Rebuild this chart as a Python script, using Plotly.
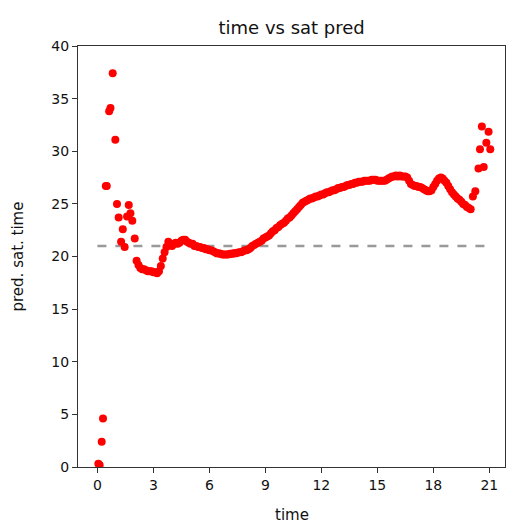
import plotly.graph_objects as go

# sparse early readings
early_time = [0.05, 0.12, 0.23, 0.30, 0.45, 0.50, 0.63, 0.70, 0.82, 0.96,
              1.05, 1.14, 1.27, 1.36, 1.46, 1.59, 1.68, 1.77, 1.87, 2.00]
early_pred = [0.3, 0.2, 2.4, 4.6, 26.7, 26.7, 33.8, 34.1, 37.4, 31.1,
              25.0, 23.7, 21.4, 22.6, 20.9, 23.8, 24.9, 24.1, 23.4, 21.7]

# dense part, one reading every 0.1 from 2.1 to 20.0
dense_start = 2.1
dense_step = 0.1
dense_pred = [
    19.6, 19.2, 18.9, 18.8, 18.8, 18.7, 18.6, 18.6, 18.6, 18.5,   # 2.1-3.0
    18.5, 18.4, 18.6, 19.1, 19.8, 20.4, 20.9, 21.4, 21.1, 21.0,   # 3.1-4.0
    21.2, 21.3, 21.2, 21.3, 21.5, 21.6, 21.6, 21.4, 21.3, 21.2,   # 4.1-5.0
    21.2, 21.0, 21.0, 20.9, 20.9, 20.8, 20.8, 20.7, 20.7, 20.6,   # 5.1-6.0
    20.6, 20.5, 20.4, 20.3, 20.3, 20.25, 20.2, 20.2, 20.2, 20.2,  # 6.1-7.0
    20.25, 20.25, 20.3, 20.3, 20.35, 20.4, 20.4, 20.5, 20.6, 20.6,  # 7.1-8.0
    20.7, 20.8, 21.0, 21.1, 21.2, 21.3, 21.4, 21.5, 21.7, 21.8,   # 8.1-9.0
    21.9, 22.0, 22.2, 22.4, 22.5, 22.7, 22.8, 23.0, 23.1, 23.2,   # 9.1-10.0
    23.4, 23.6, 23.7, 23.9, 24.1, 24.3, 24.5, 24.7, 24.9, 25.1,   # 10.1-11.0
    25.2, 25.3, 25.4, 25.5, 25.5, 25.6, 25.7, 25.7, 25.8, 25.9,   # 11.1-12.0
    25.9, 26.0, 26.1, 26.1, 26.2, 26.3, 26.3, 26.4, 26.5, 26.5,   # 12.1-13.0
    26.6, 26.6, 26.7, 26.8, 26.8, 26.9, 26.9, 27.0, 27.0, 27.1,   # 13.1-14.0
    27.1, 27.1, 27.2, 27.2, 27.2, 27.2, 27.3, 27.3, 27.3, 27.2,   # 14.1-15.0
    27.2, 27.2, 27.2, 27.2, 27.3, 27.4, 27.5, 27.6, 27.6, 27.7,   # 15.1-16.0
    27.6, 27.7, 27.6, 27.6, 27.6, 27.5, 27.2, 26.9, 26.8, 26.7,   # 16.1-17.0
    26.7, 26.6, 26.6, 26.5, 26.4, 26.3, 26.2, 26.2, 26.3, 26.6,   # 17.1-18.0
    26.9, 27.2, 27.4, 27.5, 27.4, 27.2, 27.0, 26.7, 26.4, 26.1,   # 18.1-19.0
    25.9, 25.7, 25.5, 25.4, 25.2, 25.0, 24.9, 24.7, 24.6, 24.5,   # 19.1-20.0
]

# sparse late readings
late_time = [20.12, 20.25, 20.42, 20.50, 20.60, 20.70, 20.84, 20.96, 21.05]
late_pred = [25.7, 26.2, 28.35, 30.2, 32.35, 28.5, 30.8, 31.85, 30.2]

threshold = 21
x_ticks = [0, 3, 6, 9, 12, 15, 18, 21]
y_ticks = [0, 5, 10, 15, 20, 25, 30, 35, 40]

dense_time = [round(dense_start + i * dense_step, 2) for i in range(len(dense_pred))]
times = early_time + dense_time + late_time
preds = early_pred + dense_pred + late_pred

FONT = "DejaVu Sans"
TXT = "#111111"
fig = go.Figure()
fig.add_trace(go.Scatter(
    x=[0, 21], y=[threshold, threshold], mode="lines",
    line=dict(color="#999999", width=2.5, dash="dash"),
    hoverinfo="skip", showlegend=False))
fig.add_trace(go.Scatter(
    x=times, y=preds, mode="markers",
    marker=dict(color="#ff0000", size=8, line=dict(width=0)),
    showlegend=False))

axis_common = dict(
    showgrid=False, zeroline=False, showline=True, linecolor="#333333",
    linewidth=1, mirror=True, ticks="outside", ticklen=5, tickwidth=1,
    tickcolor="#333333", tickfont=dict(family=FONT, size=14, color=TXT),
    automargin=False,
)
fig.update_xaxes(range=[-1.04, 21.84], tickvals=x_ticks, **axis_common)
fig.update_yaxes(range=[0, 40], tickvals=y_ticks, **axis_common)
fig.add_annotation(text="time", xref="paper", yref="paper", x=0.5, y=0,
                   yshift=-48, showarrow=False, xanchor="center", yanchor="middle",
                   font=dict(family=FONT, size=15, color=TXT))
fig.add_annotation(text="pred. sat. time", xref="paper", yref="paper", x=0, y=0.5,
                   xshift=-61, textangle=-90, showarrow=False,
                   xanchor="center", yanchor="middle",
                   font=dict(family=FONT, size=15, color=TXT))
fig.update_layout(
    width=509, height=527,
    margin=dict(l=78, r=4, t=46, b=60),
    paper_bgcolor="white", plot_bgcolor="white",
    title=dict(text="time vs sat pred", x=0.573, xanchor="center", y=0.947, yanchor="middle",
               font=dict(family=FONT, size=18, color=TXT)),
)
fig.write_html("out.html", config={"displayModeBar": False},
               post_script="document.body.style.margin='0';")
